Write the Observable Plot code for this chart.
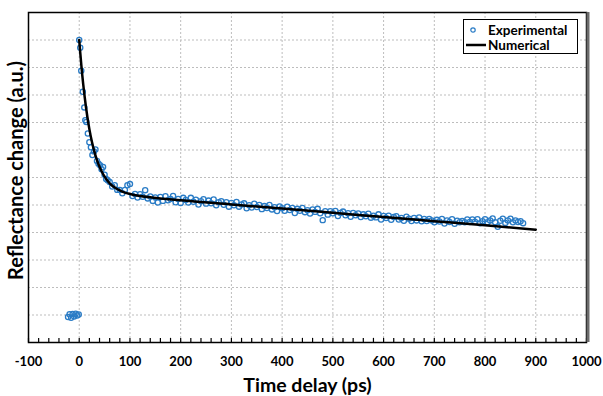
<!DOCTYPE html>
<html><head><meta charset="utf-8">
<script src="https://cdn.jsdelivr.net/npm/d3@7"></script>
<script src="https://cdn.jsdelivr.net/npm/@observablehq/plot@0.6"></script>
<style>
body{margin:0;background:#fff;font-family:Lato,sans-serif}
#wrap{position:relative;width:603px;height:396px}
#legend{position:absolute;left:463px;top:19px;width:115px;height:35px;border:1.5px solid #000;background:#fff;box-sizing:border-box;font:bold 13.5px Lato,sans-serif;color:#000}
#legend .row{position:absolute;left:0;height:14px;line-height:14px;white-space:nowrap}
#legend .row span{display:inline-block;height:14px;line-height:14px;vertical-align:top}
</style></head><body><div id="wrap"><div id="legend">
<div class="row" style="top:3px"><svg width="24" height="14" style="vertical-align:top"><circle cx="9" cy="7" r="2.2" fill="none" stroke="#2a7cc6" stroke-width="1.2"/></svg><span id="lg1"></span></div>
<div class="row" style="top:18px"><svg width="24" height="14" style="vertical-align:top"><line x1="2" x2="22" y1="7" y2="7" stroke="#000" stroke-width="2.5"/></svg><span id="lg2"></span></div>
</div></div>
<script>
const seriesNames = ["Experimental", "Numerical"];
const xTickLabels = [-100, 0, 100, 200, 300, 400, 500, 600, 700, 800, 900, 1000];
const xGridLines = [0, 100, 200, 300, 400, 500, 600, 700, 800, 900];
const xMinorTicks = [-100,-80,-60,-40,-20,0,20,40,60,80,100,120,140,160,180,200,220,240,260,280,300,320,340,360,380,400,420,440,460,480,500,520,540,560,580,600,620,640,660,680,700,720,740,760,780,800,820,840,860,880,900,920,940,960,980,1000];
const yGridLines = [1, 2, 3, 4, 5, 6, 7, 8, 9, 10, 11];

const expTime = [
 -22,-19,-16,-13,-10,-7,-4,-1,
 0,2,4,7,10,12,14,17,20,23,26,29,32,35,38,41,44,47,50,53,56,
 60,65,70,75,80,85,90,95,100,105,
 110,115,120,125,130,135,140,145,150,155,
 160,165,170,175,180,185,190,195,200,205,
 210,215,220,225,230,235,240,245,250,255,
 260,265,270,275,280,285,290,295,300,305,
 310,315,320,325,330,335,340,345,350,355,
 360,365,370,375,380,385,390,395,400,405,
 410,415,420,425,430,435,440,445,450,455,
 460,465,470,475,480,485,490,495,500,505,
 510,515,520,525,530,535,540,545,550,555,
 560,565,570,575,580,585,590,595,600,605,
 610,615,620,625,630,635,640,645,650,655,
 660,665,670,675,680,685,690,695,700,705,
 710,715,720,725,730,735,740,745,750,755,
 760,765,770,775,780,785,790,795,800,805,
 810,815,820,825,830,835,840,845,850,855,
 860,865,870,875
];
const expValue = [
 0.93,1.03,0.90,1.04,0.95,1.05,0.98,1.02,
 11.0,10.72,9.88,9.12,8.55,8.08,8.02,7.6,7.28,7.1,6.82,6.95,7.02,6.6,6.5,6.45,6.3,6.38,6.1,5.95,5.9,
 5.84,5.67,5.72,5.55,5.55,5.43,5.55,5.72,5.76,5.33,
 5.40,5.27,5.39,5.30,5.54,5.24,5.31,5.15,5.27,5.09,
 5.29,5.15,5.32,5.17,5.22,5.33,5.10,5.22,5.07,5.26,
 5.18,5.09,5.26,5.12,5.19,5.02,5.14,5.21,5.05,5.16,
 5.06,5.20,4.99,5.10,5.14,5.01,5.10,4.94,5.07,4.99,
 5.11,4.94,5.02,5.06,4.88,4.99,4.91,5.05,4.93,5.00,
 4.85,4.96,4.89,5.00,4.84,4.92,4.78,4.95,4.88,4.79,
 4.94,4.82,4.89,4.71,4.86,4.79,4.89,4.74,4.81,4.69,
 4.84,4.75,4.86,4.70,4.45,4.77,4.65,4.77,4.70,4.78,
 4.60,4.71,4.76,4.63,4.70,4.57,4.71,4.63,4.69,4.56,
 4.66,4.59,4.68,4.54,4.61,4.55,4.66,4.47,4.60,4.53,
 4.61,4.46,4.56,4.59,4.47,4.53,4.43,4.57,4.50,4.42,
 4.53,4.44,4.55,4.41,4.49,4.42,4.49,4.44,4.37,4.46,
 4.40,4.49,4.33,4.44,4.38,4.48,4.32,4.43,4.37,4.42,
 4.37,4.47,4.38,4.47,4.39,4.48,4.34,4.41,4.48,4.37,
 4.44,4.51,4.37,4.21,4.43,4.50,4.35,4.44,4.50,4.37,
 4.44,4.38,4.41,4.34
];

const numTime  = [0, 2, 4, 6, 8, 10, 13, 16, 20, 25, 30, 35, 40, 45, 50, 60, 70, 80, 90, 100, 120, 140, 160, 200, 300, 400, 500, 600, 700, 800, 900];
const numValue = [11.0, 10.54, 10.11, 9.72, 9.37, 9.04, 8.60, 8.21, 7.76, 7.30, 6.93, 6.63, 6.39, 6.19, 6.03, 5.79, 5.64, 5.53, 5.45, 5.40, 5.33, 5.28, 5.24, 5.17, 5.02, 4.87, 4.72, 4.56, 4.41, 4.26, 4.10];

const expData = expTime.map((t, i) => ({t, v: expValue[i]}));
const numData = numTime.map((t, i) => ({t, v: numValue[i]}));

document.getElementById("lg1").textContent = seriesNames[0];
document.getElementById("lg2").textContent = seriesNames[1];

const grid = {stroke: "#bdbdbd", strokeWidth: 1, strokeDasharray: "2,2", strokeOpacity: 1};

const chart = Plot.plot({
  width: 603,
  height: 396,
  marginLeft: 28,
  marginRight: 17,
  marginTop: 12,
  marginBottom: 54,
  style: {fontFamily: "Lato, sans-serif", color: "#000", background: "#fff"},
  x: {domain: [-100, 1000]},
  y: {domain: [0, 12], axis: null},
  marks: [
    Plot.ruleY(yGridLines, grid),
    Plot.ruleX(xGridLines, grid),
    Plot.dot(expData, {x: "t", y: "v", r: 2.6, stroke: "#2a7cc6", strokeWidth: 1.3, fill: "none"}),
    Plot.line(numData, {x: "t", y: "v", stroke: "#000", strokeWidth: 2.5, curve: "monotone-x"}),
    Plot.ruleX(xMinorTicks, {x: d => d, y1: 0, y2: 0.15, stroke: "#000", strokeWidth: 1.2}),
    Plot.frame({stroke: "#000", strokeWidth: 1.5}),
    Plot.ruleX([1000], {stroke: "#6b6b6b", strokeWidth: 3, dx: 1.5}),
    Plot.axisX(xTickLabels, {tickSize: 0, tickPadding: 14, fontSize: 13, fontWeight: "bold", label: null, tickFormat: d => String(d)}),
    Plot.text(["Time delay (ps)"], {frameAnchor: "bottom", dy: 43, text: d => d, fontSize: 19.5, fontWeight: "bold", lineAnchor: "middle", textAnchor: "middle"}),
    Plot.text(["Reflectance change (a.u.)"], {frameAnchor: "left", dx: -12, dy: -7, rotate: -90, text: d => d, fontSize: 20, fontWeight: "bold", lineAnchor: "middle", textAnchor: "middle"})
  ]
});
document.getElementById("wrap").prepend(chart);
</script>
</body></html>
